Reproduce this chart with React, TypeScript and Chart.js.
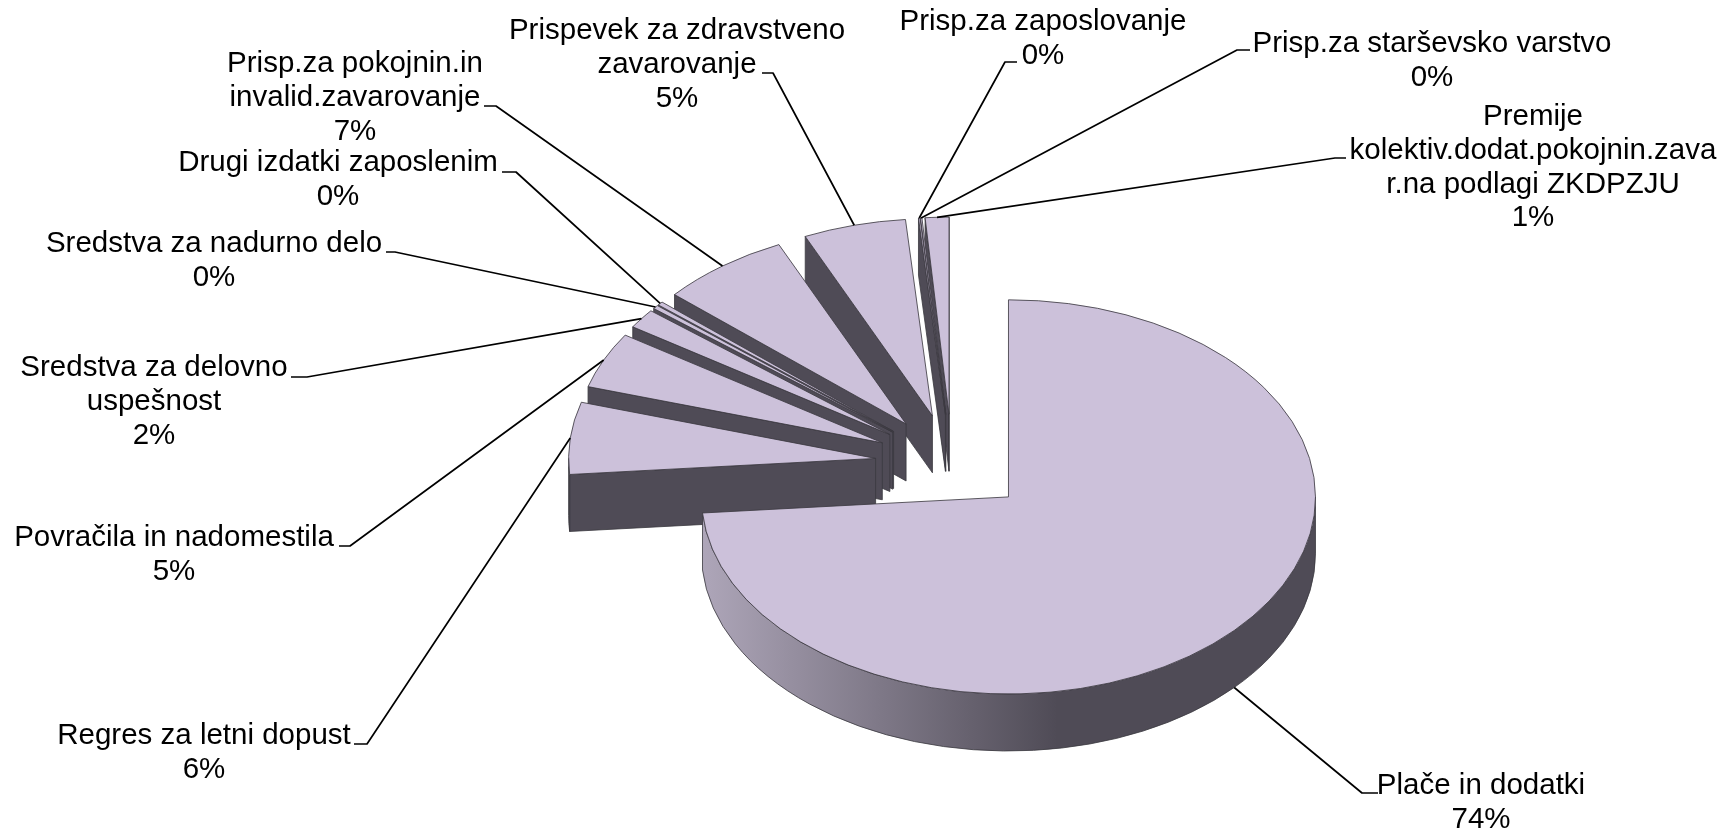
import React, { useEffect, useRef } from "react";
import { Chart, registerables } from "chart.js";

Chart.register(...registerables);

// Data (share of the total, in %)
const categories: string[][] = [
  ["Plače in dodatki"],
  ["Regres za letni dopust"],
  ["Povračila in nadomestila"],
  ["Sredstva za delovno", "uspešnost"],
  ["Sredstva za nadurno delo"],
  ["Drugi izdatki zaposlenim"],
  ["Prisp.za pokojnin.in", "invalid.zavarovanje"],
  ["Prispevek za zdravstveno", "zavarovanje"],
  ["Prisp.za zaposlovanje"],
  ["Prisp.za starševsko varstvo"],
  ["Premije", "kolektiv.dodat.pokojnin.zava", "r.na podlagi ZKDPZJU"],
];
const shares: number[] = [73.7, 5.9, 4.6, 1.6, 0.3, 0.3, 6.8, 5.4, 0.08, 0.08, 1.24];

// Layout of the callouts: centre x and first-line centre y of each label block
const labelCenterX = [1481, 204, 174, 154, 214, 338, 355, 677, 1043, 1432, 1533];
const labelTopY = [786, 736, 538, 368, 244, 163, 64, 31, 22, 44, 117];
// Leader-line elbow and end next to the label
const elbowX = [1362, 367, 350, 307, 395, 516, 496, 773, 1005, 1237, 1335];
const elbowY = [793, 744, 546, 377, 252, 172, 106, 73, 62, 50, 158];
const leaderEndX = [1378, 354, 339, 291, 386, 502, 484, 762, 1017, 1250, 1346];

const RADIUS = 307;
const SQUASH = 0.642;
const EXPLODE = 76.8;
const DEPTH = 57;
const LINE_HEIGHT = 33.7;
const FONT = '29.5px "Liberation Sans", Arial, sans-serif';
const TOP_COLOR = "#ccc1da";
const SIDE_COLOR = "#4f4b56";
const EDGE_COLOR = "#3a383f";

const pie3d = {
  id: "pie3d",
  beforeDatasetsDraw(chart: any) {
    const ctx: CanvasRenderingContext2D = chart.ctx;
    const arcs = chart.getDatasetMeta(0).data;
    const total = shares.reduce((a, b) => a + b, 0);

    const geometry = arcs.map((arc: any) => {
      const { x, y, startAngle, endAngle, outerRadius } = arc.getProps(
        ["x", "y", "startAngle", "endAngle", "outerRadius"],
        true
      );
      const mid = (startAngle + endAngle) / 2;
      return {
        arc,
        a0: startAngle,
        a1: endAngle,
        mid,
        r: outerRadius,
        cx: x,
        cy: y,
        ox: x + EXPLODE * Math.cos(mid),
        oy: y + SQUASH * EXPLODE * Math.sin(mid),
      };
    });

    const drawFace = (g: any, a: number) => {
      const px = g.ox + g.r * Math.cos(a);
      const py = g.oy + SQUASH * g.r * Math.sin(a);
      ctx.beginPath();
      ctx.moveTo(g.ox, g.oy);
      ctx.lineTo(px, py);
      ctx.lineTo(px, py + DEPTH);
      ctx.lineTo(g.ox, g.oy + DEPTH);
      ctx.closePath();
      ctx.fillStyle = SIDE_COLOR;
      ctx.fill();
      ctx.stroke();
    };

    const drawRim = (g: any, index: number) => {
      // Only the part of the rim that faces the viewer (lower half of the ellipse)
      const ranges: [number, number][] = [
        [g.a0, g.a1],
        [g.a0 + 2 * Math.PI, g.a1 + 2 * Math.PI],
      ];
      for (const [s, e] of ranges) {
        const from = Math.max(s, 0);
        const to = Math.min(e, Math.PI);
        if (to <= from) continue;
        ctx.beginPath();
        ctx.ellipse(g.ox, g.oy, g.r, SQUASH * g.r, 0, from, to);
        ctx.ellipse(g.ox, g.oy + DEPTH, g.r, SQUASH * g.r, 0, to, from, true);
        ctx.closePath();
        if (index === 0) {
          const left = g.ox - g.r;
          const grad = ctx.createLinearGradient(left, 0, g.ox + g.r, 0);
          grad.addColorStop(0, "#aea6b9");
          grad.addColorStop(0.58, SIDE_COLOR);
          grad.addColorStop(1, SIDE_COLOR);
          ctx.fillStyle = grad;
        } else {
          ctx.fillStyle = SIDE_COLOR;
        }
        ctx.fill();
        ctx.stroke();
      }
    };

    // Painter's order: back wedges first, the big slice last
    for (let i = geometry.length - 1; i >= 0; i--) {
      const g = geometry[i];
      ctx.save();
      ctx.lineWidth = 0.8;
      ctx.strokeStyle = EDGE_COLOR;
      ctx.lineJoin = "round";
      if (Math.cos(g.a0) < 0) drawFace(g, g.a0);
      if (Math.cos(g.a1) > 0) drawFace(g, g.a1);
      drawRim(g, i);
      ctx.restore();

      ctx.save();
      ctx.translate(g.cx, g.cy);
      ctx.scale(1, SQUASH);
      ctx.translate(EXPLODE * Math.cos(g.mid), EXPLODE * Math.sin(g.mid));
      ctx.translate(-g.cx, -g.cy);
      g.arc.draw(ctx);
      ctx.restore();
    }

    // Leader lines
    ctx.save();
    ctx.strokeStyle = "#000";
    ctx.lineWidth = 1.7;
    ctx.lineJoin = "round";
    geometry.forEach((g: any, i: number) => {
      const sx = g.ox + g.r * Math.cos(g.mid);
      const sin = Math.sin(g.mid);
      const sy = g.oy + SQUASH * g.r * sin + (sin > 0 ? DEPTH : 0);
      ctx.beginPath();
      ctx.moveTo(sx, sy);
      ctx.lineTo(elbowX[i], elbowY[i]);
      ctx.lineTo(leaderEndX[i], elbowY[i]);
      ctx.stroke();
    });
    ctx.restore();

    // Labels
    ctx.save();
    ctx.font = FONT;
    ctx.fillStyle = "#000";
    ctx.textAlign = "center";
    ctx.textBaseline = "middle";
    categories.forEach((lines, i) => {
      const pct = `${Math.round((shares[i] / total) * 100)}%`;
      [...lines, pct].forEach((text, n) => {
        ctx.fillText(text, labelCenterX[i], labelTopY[i] + n * LINE_HEIGHT);
      });
    });
    ctx.restore();

    return false;
  },
};

export default function App() {
  const ref = useRef<HTMLCanvasElement>(null);
  useEffect(() => {
    const chart = new Chart(ref.current as HTMLCanvasElement, {
      type: "pie",
      data: {
        labels: categories.map((c) => c.join(" ")),
        datasets: [
          {
            data: shares,
            backgroundColor: TOP_COLOR,
            borderColor: EDGE_COLOR,
            borderWidth: 1,
            borderJoinStyle: "round",
            borderAlign: "center",
          },
        ],
      },
      options: {
        responsive: false,
        animation: false,
        devicePixelRatio: 1,
        radius: RADIUS,
        rotation: 0,
        layout: { padding: { left: 178, top: 95, right: 0, bottom: 0 } },
        plugins: { legend: { display: false }, tooltip: { enabled: false }, title: { display: false } },
      } as any,
      plugins: [pie3d as any],
    });
    return () => chart.destroy();
  }, []);
  return (
    <canvas
      ref={ref}
      width={1726}
      height={832}
      style={{ position: "absolute", left: 0, top: 0, display: "block", background: "#fff" }}
    />
  );
}
